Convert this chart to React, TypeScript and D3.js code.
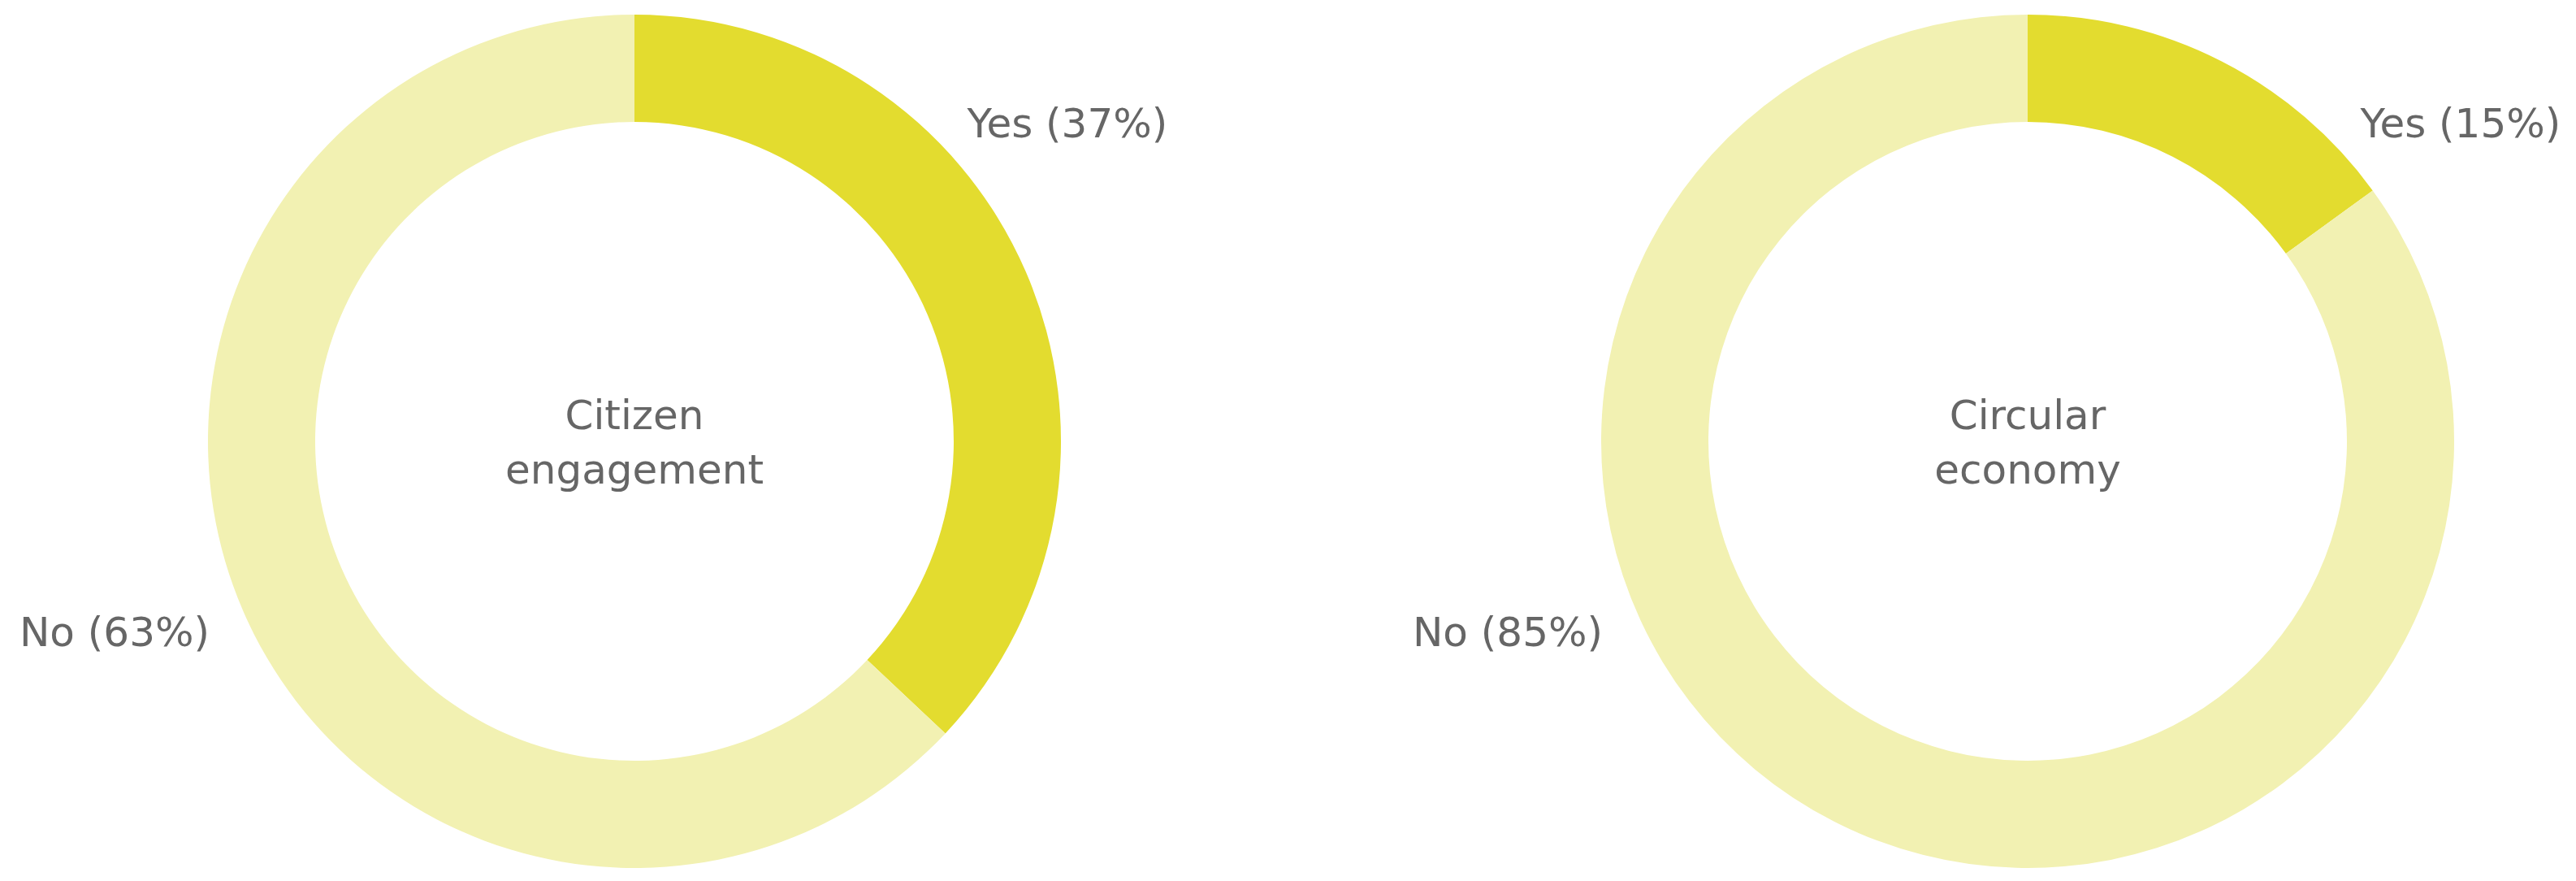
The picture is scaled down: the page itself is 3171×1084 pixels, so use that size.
import React from "react";
import * as d3 from "d3";

const charts = ["Citizen engagement", "Circular economy"];
const titleLines = [["Citizen", "engagement"], ["Circular", "economy"]];
const categories = ["Yes", "No"];
const yesValues = [37, 15];
const noValues = [63, 85];
const colors = ["#e3dc2f", "#f2f1b2"];

const W = 3171;
const H = 1084;

export default function App() {
  const R = 525;
  const r = 393;
  const cy = 543;
  const x = d3.scalePoint<string>().domain(charts).range([781, 2496]);
  const pie = d3.pie<number>().sort(null).value((d) => d);
  const arc = d3.arc<d3.PieArcDatum<number>>().innerRadius(r).outerRadius(R);
  const font = "'DejaVu Sans', sans-serif";
  return (
    <svg width={W} height={H} style={{ position: "absolute", left: 0, top: 0, background: "#fff" }}>
      {charts.map((c, i) => {
        const cx = x(c)!;
        const vals = [yesValues[i], noValues[i]];
        const arcs = pie(vals);
        return (
          <g key={c} transform={`translate(${cx},${cy})`}>
            {arcs.map((a, j) => (
              <path key={j} d={arc(a)!} fill={colors[j]} />
            ))}
            {titleLines[i].map((t, k) => (
              <text
                key={k}
                x={0}
                y={-15 + k * 67}
                textAnchor="middle"
                fontFamily={font}
                fontSize={50}
                fill="#666"
              >
                {t}
              </text>
            ))}
            <text x={R * 0.78} y={-R * 0.712} fontFamily={font} fontSize={50} fill="#666">
              {`${categories[0]} (${vals[0]}%)`}
            </text>
            <text x={-R + 2} y={R * 0.48} textAnchor="end" fontFamily={font} fontSize={50} fill="#666">
              {`${categories[1]} (${vals[1]}%)`}
            </text>
          </g>
        );
      })}
    </svg>
  );
}
